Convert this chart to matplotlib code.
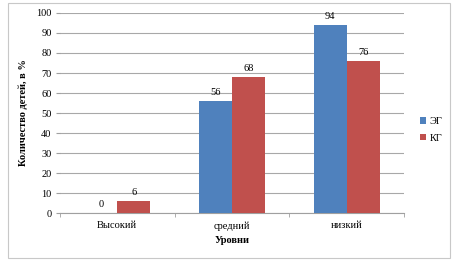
import numpy as np
import matplotlib as mpl
mpl.use('Agg')
import matplotlib.pyplot as plt
from matplotlib.patches import Rectangle

categories = ['Высокий', 'средний', 'низкий']
series_names = ['ЭГ', 'КГ']
eg_values = [0, 56, 94]
kg_values = [6, 68, 76]
y_ticks = list(range(0, 101, 10))

plt.rcParams['font.family'] = ['Liberation Serif', 'DejaVu Serif']
plt.rcParams['font.size'] = 7.5

fig = plt.figure(figsize=(4.57, 2.65), dpi=100)
# outer frame of the chart
fig.patches.append(Rectangle((0.018, 0.025), 0.966, 0.965, transform=fig.transFigure,
                             fill=False, edgecolor='#c8c8c8', linewidth=0.8))

ax = fig.add_axes([0.131, 0.196, 0.753, 0.755])
x = np.arange(len(categories))
w = 0.288
bars_eg = ax.bar(x - w / 2, eg_values, w, color='#4F81BD', label=series_names[0], zorder=3)
bars_kg = ax.bar(x + w / 2, kg_values, w, color='#C0504D', label=series_names[1], zorder=3)
for bars in (bars_eg, bars_kg):
  ax.bar_label(bars, padding=3, fontsize=7.5)

ax.set_xlim(-0.5, 2.5)
ax.set_ylim(0, 100)
ax.set_yticks(y_ticks)
ax.yaxis.grid(True, color='#a8a8a8', linewidth=0.8, zorder=0)
ax.set_xticks(x)
ax.set_xticklabels(categories)
ax.tick_params(axis='x', length=0, pad=6)
ax.set_xticks([-0.5, 0.5, 1.5, 2.5], minor=True)
ax.tick_params(axis='x', which='minor', length=3, color='#a0a0a0')
ax.tick_params(axis='y', length=3, color='#a0a0a0', pad=3)
for side in ('top', 'right', 'left'):
  ax.spines[side].set_visible(False)
ax.spines['bottom'].set_color('#a0a0a0')

ax.set_ylabel('Количество детей, в %', fontweight='bold', fontsize=7.5, labelpad=6)
ax.set_xlabel('Уровни', fontweight='bold', fontsize=7.5, labelpad=4)

ax.legend(loc='center left', bbox_to_anchor=(1.02, 0.415), frameon=False,
          handlelength=0.6, handleheight=0.6, handletextpad=0.3, labelspacing=0.7,
          fontsize=7.5)

fig.savefig('out.png', dpi=100)
